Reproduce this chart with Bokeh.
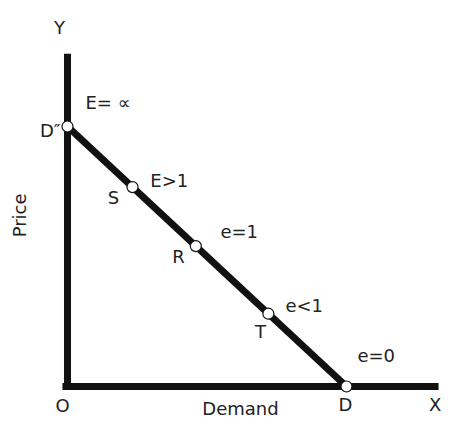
from bokeh.plotting import figure
from bokeh.models import Range1d
from bokeh.core.properties import value
from bokeh.embed import file_html
from bokeh.resources import INLINE

# ---- data ----
# demand curve: intercepts on the axes
price_intercept = 10.0   # D''
demand_intercept = 10.0  # D
# points on the curve (quantity values)
point_names = ["D″", "S", "R", "T", "D"]
point_q = [0.0, 2.33, 4.6, 7.2, 10.0]
elasticity_labels = ["E= ∝", "E>1", "e=1", "e<1", "e=0"]
axis_x_max = 13.3
axis_y_max = 12.8

point_p = [price_intercept - q * price_intercept / demand_intercept for q in point_q]

FONT = value("DejaVu Sans")
COLOR = "#222222"
FS = "18px"

p = figure(width=442, height=422, output_backend="svg", toolbar_location=None,
           x_range=Range1d(-2.401, 13.441), y_range=Range1d(-1.385, 14.846),
           min_border=0, outline_line_color=None)
p.axis.visible = False
p.grid.visible = False
p.background_fill_color = "white"
p.border_fill_color = "white"

# axes (thick lines)
p.line([-0.18, axis_x_max], [0, 0], line_width=7, line_color="#111111", line_cap="butt")
p.line([0, 0], [-0.13, axis_y_max], line_width=7, line_color="#111111", line_cap="butt")

# demand curve
p.line([0, demand_intercept], [price_intercept, 0], line_width=7, line_color="#111111", line_cap="butt")

# points
p.scatter(point_q, point_p, size=11, marker="circle", fill_color="white",
          line_color="#111111", line_width=1.2)

# point labels (name)
name_pos = [(-0.25, 9.85, "right"), (1.65, 7.27, "center"), (3.98, 5.0, "center"),
            (6.92, 2.12, "center"), (9.96, -0.69, "center")]
for name, (x, y, al) in zip(point_names, name_pos):
    p.text([x], [y], text=[name], text_font=FONT, text_font_size=FS,
           text_color=COLOR, text_align=al, text_baseline="middle")

# elasticity labels
el_pos = [(0.645, 10.92), (2.97, 7.92), (5.48, 5.96), (7.81, 3.12), (10.39, 1.19)]
for lab, (x, y) in zip(elasticity_labels, el_pos):
    p.text([x], [y], text=[lab], text_font=FONT, text_font_size=FS,
           text_color=COLOR, text_align="left", text_baseline="middle")

# axis letters
for lab, x, y in [("Y", -0.29, 13.81), ("O", -0.18, -0.73), ("X", 13.18, -0.69),
                  ("Demand", 6.2, -0.85)]:
    p.text([x], [y], text=[lab], text_font=FONT, text_font_size=FS,
           text_color=COLOR, text_align="center", text_baseline="middle")
p.text([-1.72], [6.58], text=["Price"], angle=1.5708, text_font=FONT, text_font_size=FS,
       text_color=COLOR, text_align="center", text_baseline="middle")

open("out.html", "w").write(file_html(p, INLINE))
